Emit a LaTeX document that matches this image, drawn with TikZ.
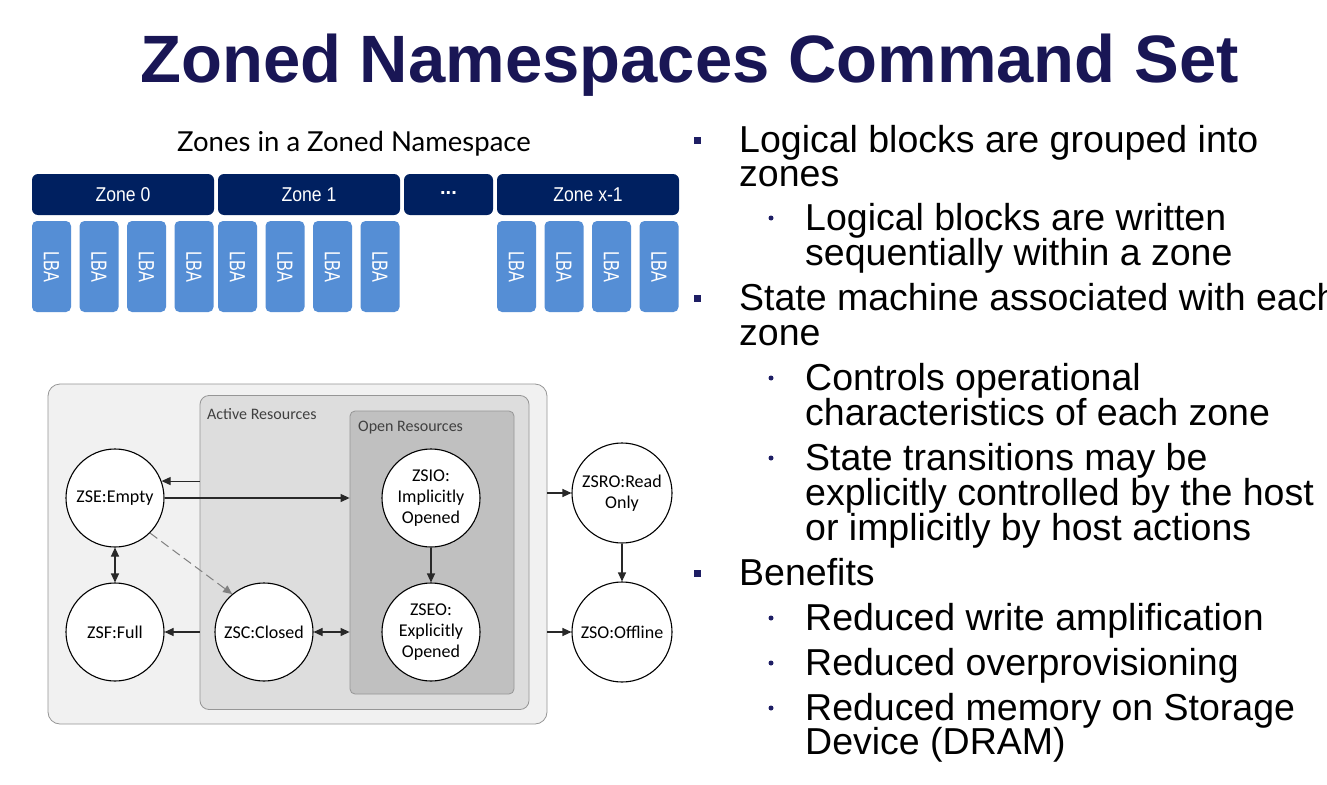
\documentclass[tikz,border=0pt]{standalone}
\usepackage{fontspec}
\usepackage{graphicx}
\setmainfont{Liberation Sans}
\newfontfamily\calib{Carlito}
\newfontfamily\gill{Lato}
\usetikzlibrary{arrows.meta}
\definecolor{titlenavy}{RGB}{25,22,85}
\definecolor{zonenavy}{RGB}{0,32,96}
\definecolor{lbablue}{RGB}{85,142,213}
\definecolor{bulletnavy}{RGB}{30,30,100}
\definecolor{outerfill}{RGB}{241,241,241}
\definecolor{activefill}{RGB}{221,221,221}
\definecolor{openfill}{RGB}{192,192,192}
\definecolor{boxline}{RGB}{150,150,150}
\definecolor{arrowgray}{RGB}{40,40,40}
\tikzset{
  zonehdr/.style={fill=zonenavy, rounded corners=6pt, text=white, minimum height=41pt, inner sep=0pt, font=\fontsize{20}{20}\selectfont},
  lba/.style={fill=lbablue, rounded corners=5pt, text=white, minimum width=91pt, minimum height=39pt, inner sep=0pt, rotate=-90, font=\fontsize{22}{22}\selectfont},
  region/.style={draw=boxline, line width=0.8pt, inner sep=0pt},
  state/.style={circle, draw=black, fill=white, line width=1.1pt, minimum size=98pt, inner sep=0pt, align=center, font=\calib\fontsize{18}{21}\selectfont},
  arr/.style={draw=arrowgray, line width=1.1pt, -{Triangle[length=9pt,width=8pt]}},
  darr/.style={draw=arrowgray, line width=1.1pt, {Triangle[length=9pt,width=8pt]}-{Triangle[length=9pt,width=8pt]}},
  dasharr/.style={draw=gray, line width=1pt, dash pattern=on 9pt off 5pt, -{Triangle[length=9pt,width=8pt]}},
  lvlone/.style={anchor=base west, inner sep=0pt, font=\fontsize{37.5}{37.5}\selectfont},
  lvltwo/.style={anchor=base west, inner sep=0pt, font=\fontsize{37.5}{37.5}\selectfont},
  sqbullet/.style={fill=bulletnavy, minimum size=7pt, inner sep=0pt},
  dotbullet/.style={circle, fill=bulletnavy, minimum size=5pt, inner sep=0pt},
  reglabel/.style={anchor=west, inner sep=0pt, text=black!75, font=\calib\fontsize{16}{18}\selectfont}
}
\begin{document}
\begin{tikzpicture}[x=1pt,y=-1pt]
\useasboundingbox (0,0) rectangle (1327,784);
\fill[white] (0,0) rectangle (1327,784);

% Title
\node[anchor=base, inner sep=0pt, text=titlenavy, font=\fontsize{67}{70}\selectfont\bfseries] (title) at (689.5,82) {Zoned Namespaces Command Set};

% Zones
\node[anchor=base, inner sep=0pt, font=\gill\fontsize{27.5}{29}\selectfont] (sub) at (354,151) {Zones in a Zoned Namespace};
\node[zonehdr, minimum width=182pt] (z0) at (123,194.5) {\scalebox{0.88}[1]{Zone 0}};
\node[zonehdr, minimum width=182pt] (z1) at (309,194.5) {\scalebox{0.88}[1]{Zone 1}};
\node[zonehdr, minimum width=89pt] (zd) at (448.5,194.5) {\bfseries\raisebox{2pt}{...}};
\node[zonehdr, minimum width=182pt] (zx) at (588,194.5) {\scalebox{0.88}[1]{Zone x-1}};

\foreach \i/\x in {1/51.5,2/99,3/146.5,4/194,5/237.5,6/285,7/332.5,8/380,9/516.5,10/564,11/611.5,12/659}{
  \node[lba] (lba\i) at (\x,266.5) {\scalebox{0.74}[1]{LBA}};
}

% State machine regions
\node[region, fill=outerfill, rounded corners=12pt, minimum width=499pt, minimum height=340pt] (outer) at (297.5,554) {};
\node[region, fill=activefill, rounded corners=9pt, minimum width=329pt, minimum height=314pt] (active) at (364.5,552.5) {};
\node[region, fill=openfill, rounded corners=5pt, minimum width=164pt, minimum height=283pt] (open) at (432,552.5) {};
\node[reglabel] (actlbl) at (207,414) {Active Resources};
\node[reglabel] (openlbl) at (358,428) {Open Resources};

% States
\node[state] (zse) at (115,498) {ZSE:Empty};
\node[state] (zsf) at (115,632) {ZSF:Full};
\node[state] (zsc) at (264,632) {ZSC:Closed};
\node[state] (zsio) at (431,498) {ZSIO:\\Implicitly\\Opened};
\node[state] (zseo) at (431,632) {ZSEO:\\Explicitly\\Opened};
\node[state, minimum size=100pt] (zsro) at (622,493) {ZSRO:Read\\Only};
\node[state, minimum size=100pt] (zso) at (622,632) {ZSO:Offline};

% Connectors
\coordinate (actE) at (active.west |- zse.20);
\draw[arr] (actE) -- (zse.20);
\coordinate (openE) at (open.west |- zse.east);
\draw[arr] (zse.east) -- (openE);
\draw[darr] (zse.south) -- (zsf.north);
\draw[dasharr] (zse.-45) -- (zsc.130);
\coordinate (actF) at (active.west |- zsf.east);
\draw[arr] (actF) -- (zsf.east);
\coordinate (openC) at (open.west |- zsc.east);
\draw[darr] (zsc.east) -- (openC);
\draw[arr] (zsio.south) -- (zseo.north);
\coordinate (outRO) at (outer.east |- zsro.west);
\draw[arr] (outRO) -- (zsro.west);
\coordinate (outO) at (outer.east |- zso.west);
\draw[arr] (outO) -- (zso.west);
\draw[arr] (zsro.south) -- (zso.north);

% Bullet text
\node[sqbullet] (b1) at (697,140) {};
\node[lvlone] (t1) at (739,152) {Logical blocks are grouped into};
\node[lvlone] (t2) at (739,186) {zones};
\node[dotbullet] (b2) at (771,218) {};
\node[lvltwo] (t3) at (805,230) {Logical blocks are written};
\node[lvltwo] (t4) at (805,265) {sequentially within a zone};
\node[sqbullet] (b3) at (697,298) {};
\node[lvlone] (t5) at (739,310) {State machine associated with each};
\node[lvlone] (t6) at (739,345) {zone};
\node[dotbullet] (b4) at (771,378) {};
\node[lvltwo] (t7) at (805,390) {Controls operational};
\node[lvltwo] (t8) at (805,425) {characteristics of each zone};
\node[dotbullet] (b5) at (771,458) {};
\node[lvltwo] (t9) at (805,470) {State transitions may be};
\node[lvltwo] (t10) at (805,505) {explicitly controlled by the host};
\node[lvltwo] (t11) at (805,540) {or implicitly by host actions};
\node[sqbullet] (b6) at (697,573) {};
\node[lvlone] (t12) at (739,585) {Benefits};
\node[dotbullet] (b7) at (771,618) {};
\node[lvltwo] (t13) at (805,630) {Reduced write amplification};
\node[dotbullet] (b8) at (771,663) {};
\node[lvltwo] (t14) at (805,675) {Reduced overprovisioning};
\node[dotbullet] (b9) at (771,708) {};
\node[lvltwo] (t15) at (805,720) {Reduced memory on Storage};
\node[lvltwo] (t16) at (805,754) {Device (DRAM)};
\end{tikzpicture}
\end{document}
